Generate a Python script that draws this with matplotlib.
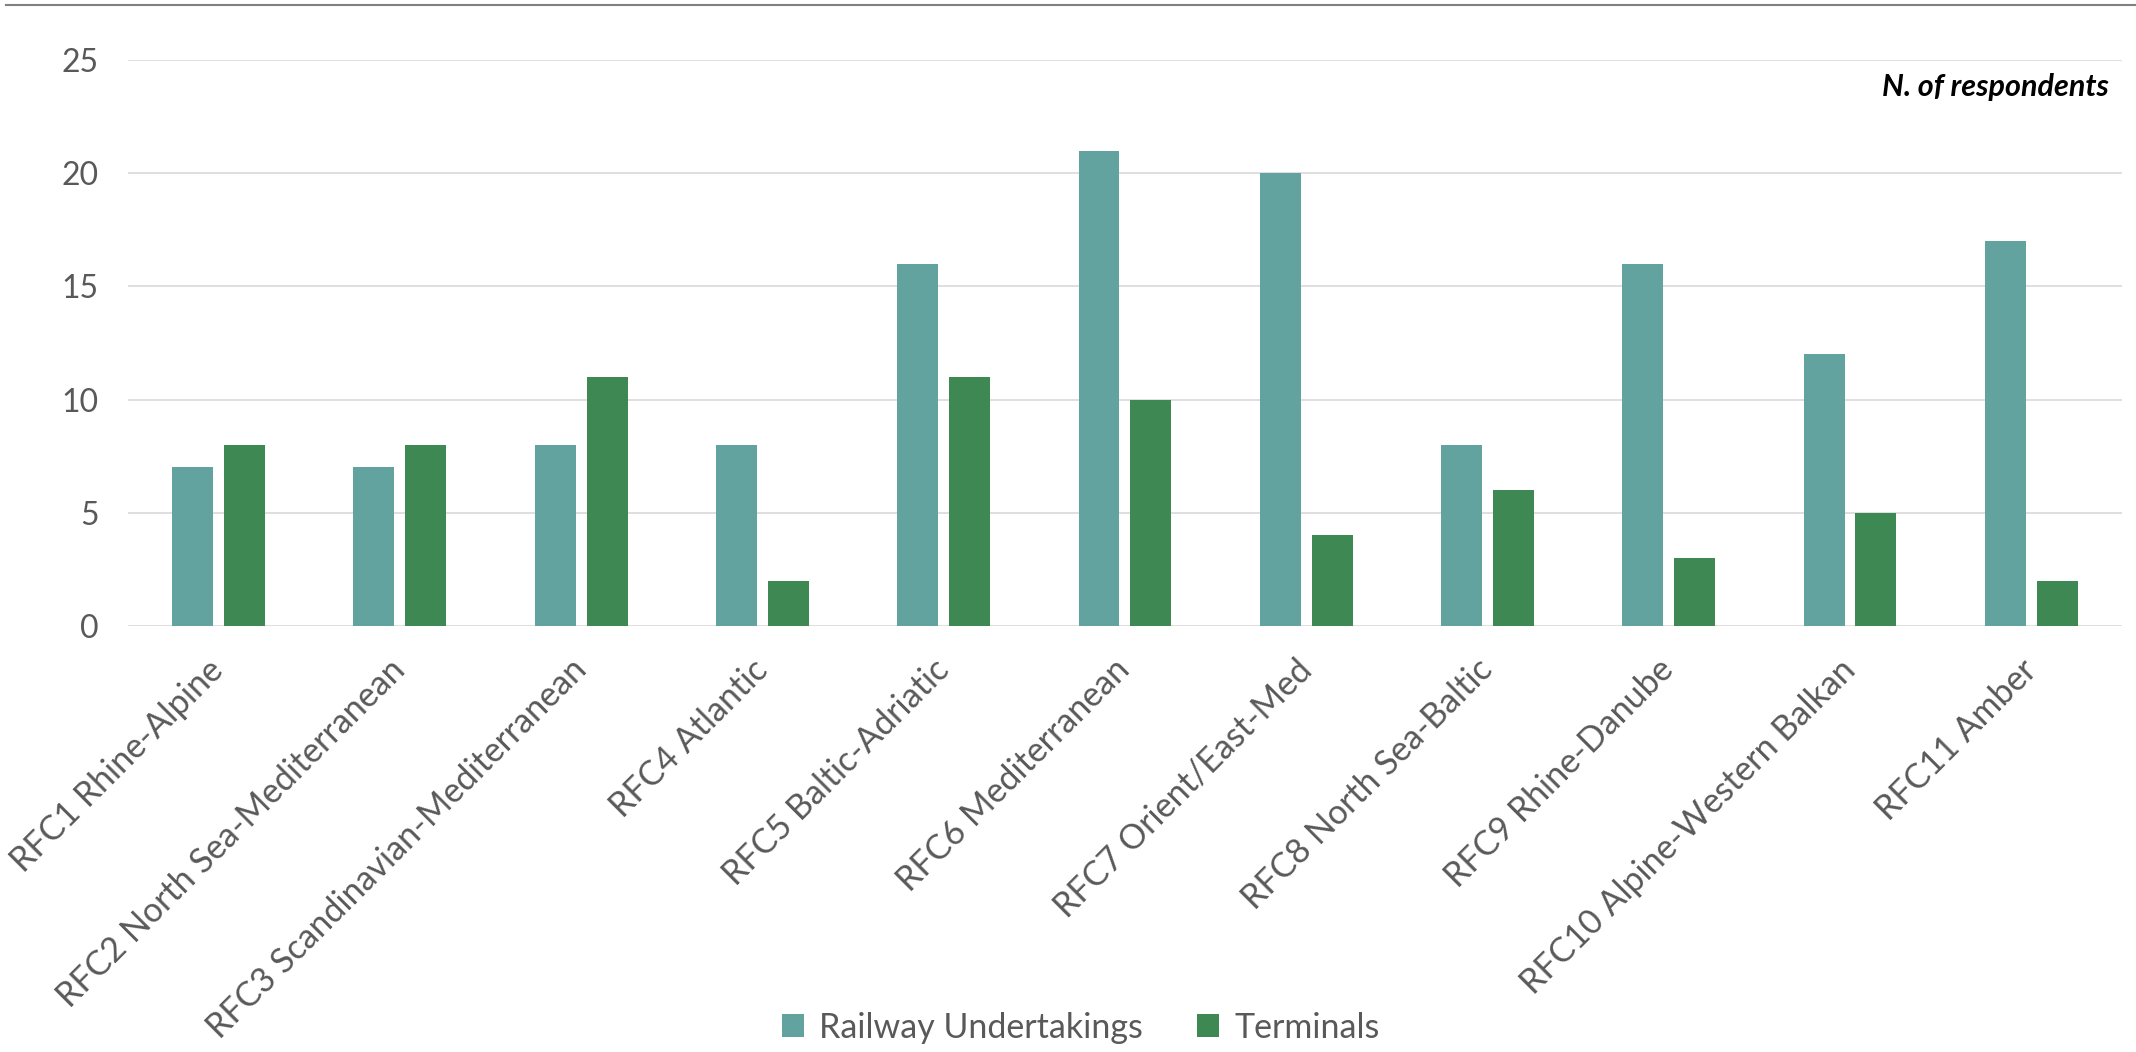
import numpy as np
import matplotlib.pyplot as plt
from matplotlib.lines import Line2D

plt.rcParams['font.family'] = ['Lato', 'DejaVu Sans']

# Data
corridors = ['RFC1 Rhine-Alpine', 'RFC2 North Sea-Mediterranean',
             'RFC3 Scandinavian-Mediterranean', 'RFC4 Atlantic',
             'RFC5 Baltic-Adriatic', 'RFC6 Mediterranean',
             'RFC7 Orient/East-Med', 'RFC8 North Sea-Baltic',
             'RFC9 Rhine-Danube', 'RFC10 Alpine-Western Balkan',
             'RFC11 Amber']
railway_undertakings = [7, 7, 8, 8, 16, 21, 20, 8, 16, 12, 17]
terminals = [8, 8, 11, 2, 11, 10, 4, 6, 3, 5, 2]
y_ticks = [0, 5, 10, 15, 20, 25]

teal = '#62A39F'
green = '#3E8853'
text_grey = '#595959'

fig = plt.figure(figsize=(21.36, 10.52), dpi=100)
ax = fig.add_axes([0.0599, 0.405, 0.9335, 0.538])

x = np.arange(len(corridors))
w = 0.226
off = 0.143
ax.bar(x - off, railway_undertakings, w, color=teal, label='Railway Undertakings', zorder=3)
ax.bar(x + off, terminals, w, color=green, label='Terminals', zorder=3)

ax.set_xlim(-0.5, len(corridors) - 0.5)
ax.set_ylim(0, 25)
ax.set_yticks(y_ticks)
ax.yaxis.grid(True, color='#D9D9D9', linewidth=1.2, zorder=0)
ax.set_axisbelow(True)
for s in ax.spines.values():
    s.set_visible(False)

ax.tick_params(axis='y', length=0, pad=21, labelsize=23, labelcolor=text_grey)
ax.tick_params(axis='x', length=0, pad=28, labelsize=24.5, labelcolor=text_grey)
ax.set_xticks(x)
ax.set_xticklabels(corridors, rotation=45, ha='right', va='center',
                   rotation_mode='anchor')

ax.text(0.9935, 0.936, 'N. of respondents', transform=ax.transAxes,
        ha='right', va='baseline', fontsize=22, fontweight='bold',
        fontstyle='italic', color='black')

fig.legend(loc='center', bbox_to_anchor=(0.506, 0.023), ncol=2, frameon=False,
           fontsize=24.5, labelcolor=text_grey, handlelength=0.65, handleheight=0.65,
           handletextpad=0.45, columnspacing=1.6)

# thin rule across the top of the chart
fig.add_artist(Line2D([0.003, 1.0], [1 - 5 / 1052, 1 - 5 / 1052],
                      transform=fig.transFigure, color='#808080', linewidth=1.5))

fig.savefig('out.png', dpi=100)
